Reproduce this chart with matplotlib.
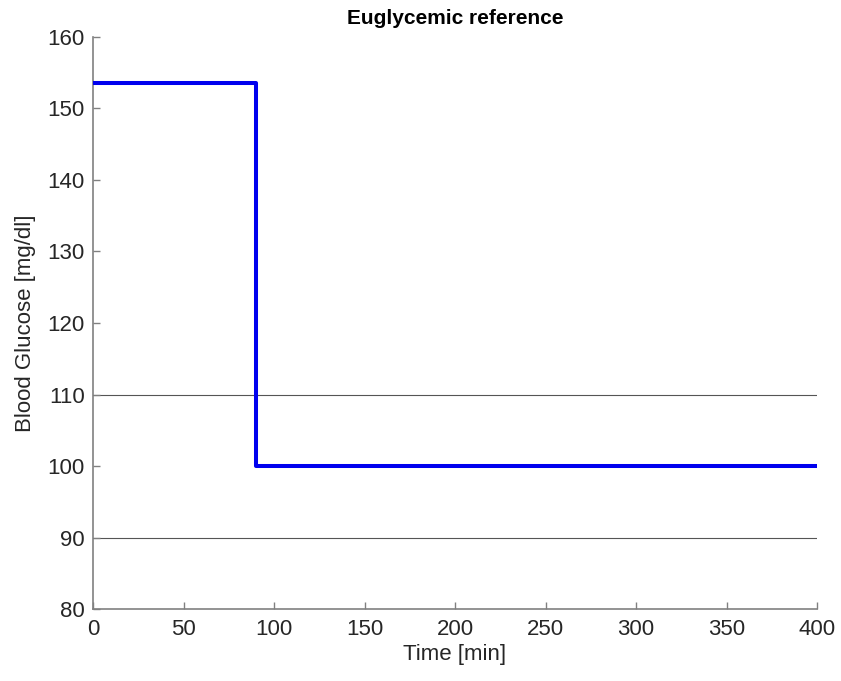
import matplotlib
matplotlib.use("Agg")
import matplotlib.pyplot as plt

# reference trajectory (step change at t = 90 min)
time_min = [0, 90, 400]
glucose = [153.5, 100, 100]
bounds = [90, 110]
xticks = [0, 50, 100, 150, 200, 250, 300, 350, 400]
yticks = [80, 90, 100, 110, 120, 130, 140, 150, 160]

plt.rcParams['font.family'] = ['Liberation Sans', 'DejaVu Sans']
axcol = '#808080'
txtcol = '#262626'

fig = plt.figure(figsize=(8.41, 6.81), dpi=100)
ax = fig.add_axes([0.1106, 0.1057, 0.8609, 0.84])

for b in bounds:
    ax.axhline(b, color='#555555', lw=0.8, zorder=1)

ax.step(time_min, glucose, where='post', color='#0000ee', lw=2.9, zorder=3)

ax.set_xlim(0, 400)
ax.set_ylim(80, 160)
ax.set_xticks(xticks)
ax.set_yticks(yticks)
ax.spines['top'].set_visible(False)
ax.spines['right'].set_visible(False)
for s in ['left', 'bottom']:
    ax.spines[s].set_color(axcol)
    ax.spines[s].set_linewidth(1.2)
ax.tick_params(direction='in', length=5, width=1, color=axcol,
               labelcolor=txtcol, labelsize=16)
ax.tick_params(axis='x', pad=7)
ax.tick_params(axis='y', pad=6)

ax.set_xlabel('Time [min]', fontsize=16, color=txtcol, labelpad=3)
ax.set_ylabel('Blood Glucose [mg/dl]', fontsize=16, color=txtcol, labelpad=8)
ax.set_title('Euglycemic reference', fontsize=15, fontweight='bold', color='black', pad=9)

fig.savefig('out.png', dpi=100)
